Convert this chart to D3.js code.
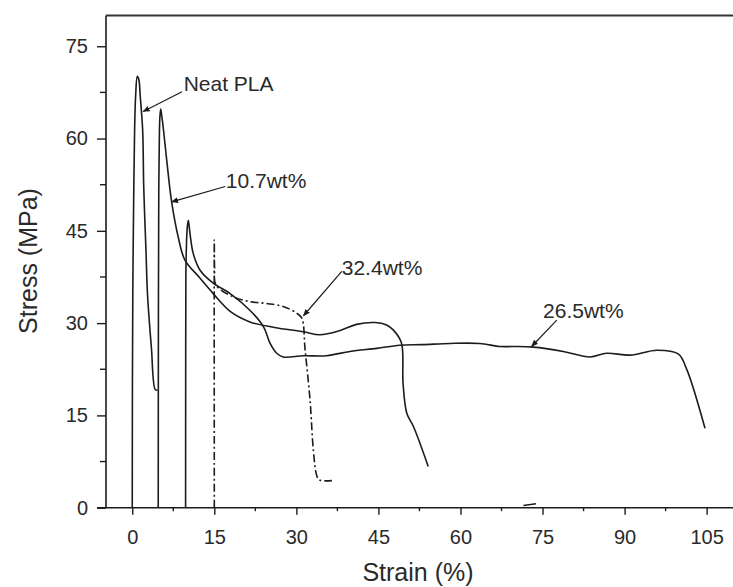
<!DOCTYPE html>
<html>
<head>
<meta charset="utf-8">
<script src="https://cdn.jsdelivr.net/npm/d3@7"></script>
<style>
  body { margin: 0; background: #fff; }
  svg { display: block; font-family: "Liberation Sans", Arial, Helvetica, sans-serif; }
</style>
</head>
<body>
<div id="container"></div>
<script>
const width = 733;
const height = 587;

// strain (%) / stress (MPa) pairs
const neatPLA = [[0,0],[0.03,20],[0.1,35],[0.2,45],[0.43,61.4],[0.62,67],[0.92,70.1],[1.2,69.6],[1.45,67],[1.9,61.4],[2.1,52],[2.5,42],[2.8,34.5],[3.5,26],[4.2,19.2],[4.6,19.1]];
const wt107 = [[4.75,0],[4.78,30],[4.85,52],[4.95,60],[5.05,63.5],[5.2,64.8],[5.4,63.6],[5.7,61.5],[6.3,56.5],[7.2,49.7],[8.4,44],[9.6,40.3],[12.4,37.3],[14.8,34.8],[17.9,31.9],[21.5,30.2],[26,29.3],[31.3,28.6],[34.3,28.1],[38,28.8],[41,29.8],[44.4,30.1],[46.5,29.7],[47.7,28.9],[49.2,26.8],[49.5,20.2],[50.2,15.3],[51.4,13.2],[54.1,6.7]];
const wt265 = [[9.75,0],[9.77,25],[9.8,38],[9.9,42.5],[10.05,45.5],[10.25,46.7],[10.55,44.6],[11.15,41.3],[12.4,38.6],[14.8,36.5],[17.9,34.8],[21.5,32.1],[24,29.4],[25.2,26.7],[26.4,25.1],[27.6,24.5],[31.3,24.7],[35.5,24.7],[39.8,25.4],[44.7,25.9],[48.9,26.4],[53,26.5],[58.1,26.7],[63.5,26.7],[67.2,26.2],[69.7,26.2],[73.3,26.1],[78.8,25.4],[83.7,24.5],[86.7,25.1],[91,24.8],[95.9,25.6],[99.8,25],[101.4,22.4],[104.7,12.9]];
const wt324 = [[15,0],[15,43.5],[15.05,39],[15.3,36.2],[18.4,34.3],[21.5,33.5],[24.5,33.2],[27.6,32.7],[30.1,31.6],[31,30.8],[31.6,25.6],[32.5,17.5],[33.1,9.4],[33.7,5.3],[34.2,4.5],[36.5,4.4]];

const xTicks = [0, 15, 30, 45, 60, 75, 90, 105];
const yTicks = [0, 15, 30, 45, 60, 75];
const xMinor = [7.5, 22.5, 37.5, 52.5, 67.5, 82.5, 97.5];
const yMinor = [7.5, 22.5, 37.5, 52.5, 67.5];

// label text, label anchor (data units) and arrow tip (data units)
const labels = [
  { text: 'Neat PLA', at: [9.4, 67.8], from: [9.1, 67.6], tip: [2.0, 64.4] },
  { text: '10.7wt%', at: [17.1, 51.9], from: [17.0, 52.2], tip: [7.2, 49.7] },
  { text: '32.4wt%', at: [38.3, 37.8], from: [38.3, 38.4], tip: [31.3, 31.2] },
  { text: '26.5wt%', at: [75.1, 30.8], from: [77.6, 30.5], tip: [73.0, 26.2] }
];

const svg = d3.select('#container')
  .append('svg')
  .attr('width', width)
  .attr('height', height);

const x = d3.scaleLinear().domain([-4.8, 110]).range([106, 734]);
const y = d3.scaleLinear().domain([0, 80]).range([507.7, 15.5]);

const ink = '#1c1c1c';

// frame: left and top
svg.append('line')
  .attr('x1', x(-4.8)).attr('x2', x(-4.8))
  .attr('y1', y(80)).attr('y2', y(0))
  .attr('stroke', ink).attr('stroke-width', 1.6);
svg.append('line')
  .attr('x1', x(-4.8)).attr('x2', width)
  .attr('y1', y(80)).attr('y2', y(80))
  .attr('stroke', '#333').attr('stroke-width', 2);

const xAxis = d3.axisBottom(x).tickValues(xTicks).tickSize(7).tickSizeOuter(0).tickPadding(15);
const yAxis = d3.axisLeft(y).tickValues(yTicks).tickSize(9).tickSizeOuter(0).tickPadding(9);

const gx = svg.append('g')
  .attr('transform', 'translate(0,' + y(0) + ')')
  .call(xAxis);
const gy = svg.append('g')
  .attr('transform', 'translate(' + x(-4.8) + ',0)')
  .call(yAxis);

[gx, gy].forEach(g => {
  g.select('.domain').remove();
  g.selectAll('line').attr('stroke', ink).attr('stroke-width', 1.4);
  g.selectAll('text')
    .attr('fill', '#2a2a2a')
    .attr('font-size', 20)
    .attr('font-family', '"Liberation Sans", Arial, sans-serif');
});

svg.append('line')
  .attr('x1', x(-4.8) - 9).attr('x2', width)
  .attr('y1', y(0)).attr('y2', y(0))
  .attr('stroke', ink).attr('stroke-width', 1.6);

svg.append('g').selectAll('line')
  .data(xMinor).enter().append('line')
  .attr('x1', d => x(d)).attr('x2', d => x(d))
  .attr('y1', y(0)).attr('y2', y(0) + 3.5)
  .attr('stroke', ink).attr('stroke-width', 1.4);
svg.append('g').selectAll('line')
  .data(yMinor).enter().append('line')
  .attr('x1', x(-4.8) - 6).attr('x2', x(-4.8))
  .attr('y1', d => y(d)).attr('y2', d => y(d))
  .attr('stroke', ink).attr('stroke-width', 1.4);

// axis titles
svg.append('text')
  .attr('x', 418).attr('y', 581)
  .attr('text-anchor', 'middle')
  .attr('font-size', 25)
  .attr('fill', '#2a2a2a')
  .text('Strain (%)');
svg.append('text')
  .attr('transform', 'translate(37,261) rotate(-90)')
  .attr('text-anchor', 'middle')
  .attr('font-size', 25)
  .attr('fill', '#2a2a2a')
  .text('Stress (MPa)');

// curves
const line = d3.line()
  .x(d => x(d[0]))
  .y(d => y(d[1]))
  .curve(d3.curveCatmullRom.alpha(0.5));

const curves = [
  { data: neatPLA, dash: null },
  { data: wt107, dash: null },
  { data: wt265, dash: null },
  { data: wt324, dash: '8,3,2,3' }
];

svg.append('g').selectAll('path')
  .data(curves).enter().append('path')
  .attr('d', d => line(d.data))
  .attr('fill', 'none')
  .attr('stroke', ink)
  .attr('stroke-width', 1.6)
  .attr('stroke-linejoin', 'round')
  .attr('stroke-dasharray', d => d.dash);

// annotations
svg.append('defs').append('marker')
  .attr('id', 'arrow')
  .attr('viewBox', '0 0 10 10')
  .attr('refX', 9).attr('refY', 5)
  .attr('markerWidth', 6).attr('markerHeight', 6)
  .attr('orient', 'auto')
  .append('path')
  .attr('d', 'M0,1 L10,5 L0,9 z')
  .attr('fill', ink);

const notes = svg.append('g');
labels.forEach(l => {
  notes.append('line')
    .attr('x1', x(l.from[0])).attr('y1', y(l.from[1]))
    .attr('x2', x(l.tip[0])).attr('y2', y(l.tip[1]))
    .attr('stroke', ink).attr('stroke-width', 1.2)
    .attr('marker-end', 'url(#arrow)');
  notes.append('text')
    .attr('x', x(l.at[0])).attr('y', y(l.at[1]))
    .attr('font-size', 21)
    .attr('fill', '#2a2a2a')
    .text(l.text);
});

// small stray mark on the axis near 73 %
svg.append('line')
  .attr('x1', x(71.5)).attr('y1', y(0.35))
  .attr('x2', x(73.8)).attr('y2', y(0.65))
  .attr('stroke', ink).attr('stroke-width', 1.4);
</script>
</body>
</html>
